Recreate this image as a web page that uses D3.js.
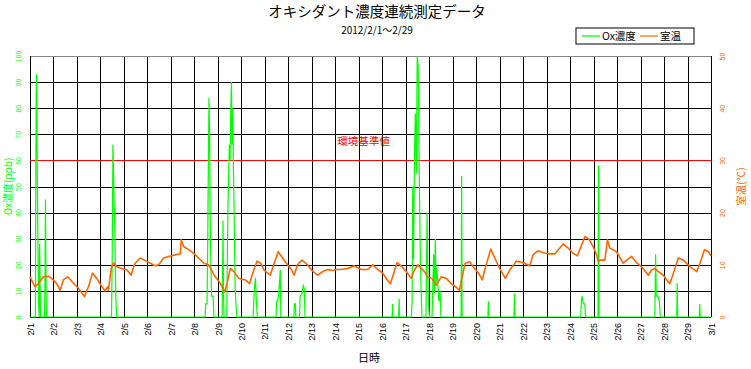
<!DOCTYPE html>
<html>
<head>
<meta charset="utf-8">
<script src="https://cdn.jsdelivr.net/npm/d3@7"></script>
<style>
	body { margin: 0; background: #fff; }
	svg { display: block; }
	text { font-family: "Noto Sans CJK JP", "Liberation Sans", sans-serif; }
	.tick text { font-family: "Liberation Sans", Arial, sans-serif; }
</style>
</head>
<body>
<div class="chart"></div>
<script>
// day labels along the bottom (2/1 .. 3/1)
const dayLabels = ["2/1","2/2","2/3","2/4","2/5","2/6","2/7","2/8","2/9","2/10",
	"2/11","2/12","2/13","2/14","2/15","2/16","2/17","2/18","2/19","2/20",
	"2/21","2/22","2/23","2/24","2/25","2/26","2/27","2/28","2/29","3/1"];

const oxTicks = [0,10,20,30,40,50,60,70,80,90,100];
const tempTicks = [0,10,20,30,40,50];
const standardPpb = 60;

// [days since 2/1 0:00, ppb]
const oxData = [
	[0,0],[0.23,0],[0.25,60],[0.27,93],[0.29,86],[0.31,55],[0.33,35],[0.35,18],[0.37,5],[0.39,0],[0.41,28],[0.43,12],[0.45,0],
	[0.62,0],[0.64,18],[0.66,45],[0.68,15],[0.70,0],
	[3.47,0],[3.50,22],[3.52,50],[3.53,66],[3.56,55],[3.58,44],[3.60,40],[3.63,22],[3.66,6],[3.69,0],
	[7.46,0],[7.48,5],[7.54,5],[7.57,30],[7.62,84],[7.65,68],[7.67,40],[7.70,22],[7.73,8],[7.80,8],[7.83,0],
	[8.18,0],[8.20,15],[8.22,37],[8.24,9],[8.26,0],
	[8.38,0],[8.40,20],[8.43,42],[8.46,55],[8.49,66],[8.52,60],[8.55,79],[8.58,90],[8.60,66],[8.62,80],[8.64,77],[8.66,58],[8.69,42],[8.71,27],[8.74,10],[8.77,5],[8.81,0],
	[9.50,0],[9.55,10],[9.60,15],[9.64,6],[9.68,0],
	[10.48,0],[10.50,6],[10.55,6],[10.60,10],[10.66,18],[10.68,0],
	[11.24,0],[11.26,5],[11.30,5],[11.32,0],
	[11.48,0],[11.50,8],[11.58,9],[11.64,12],[11.68,11],[11.71,0],
	[15.42,0],[15.44,5],[15.46,0],[15.70,0],[15.72,7],[15.74,0],
	[16.24,0],[16.27,6],[16.30,50],[16.33,22],[16.37,60],[16.41,78],[16.45,55],[16.49,100],[16.53,96],[16.57,60],[16.61,30],[16.65,12],[16.69,0],
	[16.86,0],[16.88,15],[16.91,40],[16.94,18],[16.97,5],[17.01,0],
	[17.12,0],[17.15,10],[17.19,24],[17.22,9],[17.26,30],[17.29,12],[17.32,19],[17.36,14],[17.41,6],[17.46,10],[17.50,0],
	[18.36,0],[18.38,54],[18.40,0],
	[19.50,0],[19.52,6],[19.54,0],
	[20.61,0],[20.63,9],[20.65,0],
	[23.45,0],[23.48,6],[23.51,8],[23.54,6],[23.58,5],[23.63,5],[23.65,0],
	[24.19,0],[24.21,58],[24.23,0],
	[26.61,0],[26.64,24],[26.67,8],[26.74,8],[26.80,6],[26.84,0],
	[27.54,0],[27.56,13],[27.58,0],
	[28.50,0],[28.52,5],[28.54,0],
	[29,0]
];

// [days since 2/1 0:00, deg C]
const tempData = [
	[0.00,7.7],[0.21,5.8],[0.36,6.4],[0.57,7.7],[0.78,7.8],[0.92,7.4],[1.14,6.4],[1.28,5.1],[1.42,7.1],[1.61,7.7],
	[1.78,6.8],[2.06,5.5],[2.32,3.9],[2.49,5.8],[2.66,8.4],[2.84,7.4],[3.06,5.8],[3.20,5.0],[3.31,5.8],[3.34,5.1],
	[3.46,9.3],[3.56,10.4],[3.70,9.6],[3.91,9.3],[4.13,9.0],[4.31,8.0],[4.41,9.6],[4.48,10.3],[4.69,11.3],[4.91,10.8],
	[5.12,10.3],[5.33,9.8],[5.48,10.0],[5.69,11.3],[5.90,11.6],[6.19,11.9],[6.40,12.1],[6.44,14.8],[6.54,13.5],[6.76,12.9],
	[6.97,12.2],[7.18,11.3],[7.40,10.3],[7.61,10.0],[7.72,9.0],[7.89,7.7],[8.11,6.4],[8.29,4.8],[8.39,6.4],[8.53,9.3],
	[8.68,8.7],[8.89,7.4],[9.17,7.1],[9.35,6.4],[9.53,9.0],[9.67,10.7],[9.82,10.3],[9.97,9.0],[10.23,8.0],[10.40,10.3],
	[10.57,12.5],[10.75,11.3],[10.97,10.0],[11.14,9.0],[11.25,8.0],[11.39,10.0],[11.58,10.9],[11.82,10.0],[11.99,9.0],[12.25,8.0],
	[12.46,8.7],[12.67,9.1],[12.89,8.9],[13.03,9.1],[13.24,9.1],[13.53,9.3],[13.81,9.8],[14.10,9.1],[14.38,9.1],[14.59,10.0],
	[14.81,9.1],[15.02,8.4],[15.21,7.1],[15.35,6.4],[15.49,8.4],[15.63,10.4],[15.80,9.8],[16.02,8.7],[16.23,7.4],[16.37,9.0],
	[16.52,10.0],[16.66,9.3],[16.80,8.7],[16.94,7.7],[17.11,7.4],[17.30,6.1],[17.51,7.7],[17.72,7.4],[17.94,6.4],[18.15,5.7],
	[18.29,5.1],[18.39,7.4],[18.53,10.3],[18.72,10.6],[18.93,9.3],[19.10,8.4],[19.26,7.1],[19.40,9.6],[19.62,13.0],[19.79,11.3],
	[20.00,9.3],[20.24,7.4],[20.43,9.0],[20.71,10.7],[21.00,10.4],[21.28,9.8],[21.42,11.9],[21.64,12.7],[21.85,12.3],[22.06,12.1],
	[22.35,12.1],[22.56,13.2],[22.70,14.0],[22.92,13.2],[23.13,12.2],[23.31,11.7],[23.49,13.8],[23.63,15.4],[23.80,14.9],[23.98,13.5],
	[24.13,11.9],[24.20,10.6],[24.27,10.9],[24.48,10.9],[24.59,14.8],[24.69,13.2],[24.98,12.5],[25.26,10.3],[25.41,10.9],[25.62,11.6],
	[25.83,10.4],[26.05,9.6],[26.33,8.0],[26.47,9.0],[26.61,9.3],[26.76,8.7],[26.97,8.0],[27.11,7.1],[27.25,6.4],[27.40,8.4],
	[27.61,11.3],[27.82,10.9],[28.11,9.6],[28.39,8.7],[28.53,10.3],[28.72,12.9],[28.89,12.5],[29.00,11.7]
];

(function() {

	const oxColor = "#00ff00",
		tempColor = "#ff6600";

	const margin = {top: 56, right: 40, bottom: 52, left: 30},
		width = 751 - margin.left - margin.right,
		height = 369 - margin.top - margin.bottom;

	const x = d3.scaleLinear()
		.domain([0, dayLabels.length - 1])
		.range([0, width]);

	const yOx = d3.scaleLinear()
		.domain([0, 100])
		.range([height, 0]);

	const yTemp = d3.scaleLinear()
		.domain([0, 50])
		.range([height, 0]);

	const root = d3.select(".chart").append("svg")
		.attr("width", 751)
		.attr("height", 369);

	root.append("text")
		.attr("x", 377)
		.attr("y", 17)
		.attr("text-anchor", "middle")
		.style("font-size", "14.5px")
		.text("オキシダント濃度連続測定データ");

	root.append("text")
		.attr("x", 377)
		.attr("y", 34)
		.attr("text-anchor", "middle")
		.style("font-size", "10px")
		.text("2012/2/1～2/29");

	const svg = root.append("g")
		.attr("transform", "translate(" + margin.left + "," + margin.top + ")");

	// vertical grid + day labels
	const xAxis = d3.axisBottom(x)
		.tickValues(d3.range(dayLabels.length))
		.tickFormat(i => dayLabels[i])
		.tickSize(-height)
		.tickPadding(0);

	svg.append("g")
		.attr("class", "x axis")
		.attr("transform", "translate(0," + height + ")")
		.call(xAxis)
		.call(g => g.select(".domain").remove())
		.call(g => g.selectAll("line").attr("stroke", "#000").attr("shape-rendering", "crispEdges"))
		.selectAll("text")
		.attr("y", 0)
		.attr("dy", "0.35em")
		.attr("text-anchor", "end")
		.attr("transform", "translate(0,6) rotate(-90)")
		.style("font-size", "9px")
		.attr("fill", "#000");

	// horizontal grid + Ox labels
	const yAxis = d3.axisLeft(yOx)
		.tickValues(oxTicks)
		.tickSize(-width)
		.tickPadding(0);

	svg.append("g")
		.attr("class", "y axis")
		.call(yAxis)
		.call(g => g.select(".domain").remove())
		.call(g => g.selectAll("line")
			.attr("stroke", d => d === 100 ? "#888" : "#000")
			.attr("shape-rendering", "crispEdges"))
		.selectAll("text")
		.attr("x", 0)
		.attr("dy", 0)
		.attr("text-anchor", "middle")
		.attr("transform", "translate(-9,0) rotate(-90)")
		.style("font-size", "7px")
		.attr("fill", oxColor);

	const tempAxis = d3.axisRight(yTemp)
		.tickValues(tempTicks)
		.tickSize(0)
		.tickPadding(0);

	svg.append("g")
		.attr("class", "y2 axis")
		.attr("transform", "translate(" + width + ",0)")
		.call(tempAxis)
		.call(g => g.select(".domain").remove())
		.selectAll("text")
		.attr("x", 0)
		.attr("dy", 0)
		.attr("text-anchor", "middle")
		.attr("transform", "translate(14,0) rotate(-90)")
		.style("font-size", "7px")
		.attr("fill", tempColor);

	// frame sides
	svg.append("line")
		.attr("x1", 0).attr("x2", 0)
		.attr("y1", 0).attr("y2", height)
		.attr("stroke", "#000")
		.attr("shape-rendering", "crispEdges");

	svg.append("line")
		.attr("x1", width).attr("x2", width)
		.attr("y1", 0).attr("y2", height)
		.attr("stroke", "#000")
		.attr("shape-rendering", "crispEdges");

	// environmental standard
	svg.append("line")
		.attr("x1", 0).attr("x2", width)
		.attr("y1", yOx(standardPpb)).attr("y2", yOx(standardPpb))
		.attr("stroke", "#ff0000")
		.attr("shape-rendering", "crispEdges");

	svg.append("text")
		.attr("x", x(14.2))
		.attr("y", yOx(standardPpb) - 15)
		.attr("text-anchor", "middle")
		.style("font-size", "10.5px")
		.attr("fill", "#ff0000")
		.text("環境基準値");

	const oxLine = d3.line()
		.x(d => x(d[0]))
		.y(d => yOx(d[1]));

	const tempLine = d3.line()
		.x(d => x(d[0]))
		.y(d => yTemp(d[1]));

	svg.append("path")
		.datum(oxData)
		.attr("fill", "none")
		.attr("stroke", oxColor)
		.attr("stroke-width", 1.2)
		.attr("d", oxLine);

	svg.append("path")
		.datum(tempData)
		.attr("fill", "none")
		.attr("stroke", tempColor)
		.attr("stroke-width", 1.6)
		.attr("stroke-linejoin", "round")
		.attr("d", tempLine);

	// axis titles
	root.append("text")
		.attr("transform", "translate(12," + (margin.top + height / 2) + ") rotate(-90)")
		.attr("text-anchor", "middle")
		.style("font-size", "10px")
		.attr("fill", oxColor)
		.text("Ox濃度(ppb)");

	root.append("text")
		.attr("transform", "translate(745," + (margin.top + height / 2) + ") rotate(-90)")
		.attr("text-anchor", "middle")
		.style("font-size", "10.5px")
		.attr("fill", tempColor)
		.text("室温(℃)");

	root.append("text")
		.attr("x", 369)
		.attr("y", 362)
		.attr("text-anchor", "middle")
		.style("font-size", "11px")
		.text("日時");

	// legend
	const legendItems = [
		{name: "Ox濃度", color: oxColor},
		{name: "室温", color: tempColor}
	];

	const legend = root.append("g")
		.attr("transform", "translate(576,28)");

	legend.append("rect")
		.attr("width", 118)
		.attr("height", 16)
		.attr("fill", "#fff")
		.attr("stroke", "#000");

	const item = legend.selectAll(".legend-item")
		.data(legendItems)
		.enter().append("g")
		.attr("class", "legend-item")
		.attr("transform", (d, i) => "translate(" + (6 + i * 58) + ",0)");

	item.append("line")
		.attr("x1", 0).attr("x2", 18)
		.attr("y1", 8).attr("y2", 8)
		.attr("stroke", d => d.color)
		.attr("stroke-width", 1.2);

	item.append("text")
		.attr("x", 20)
		.attr("y", 12)
		.style("font-size", "10.5px")
		.text(d => d.name);

})();
</script>
</body>
</html>
